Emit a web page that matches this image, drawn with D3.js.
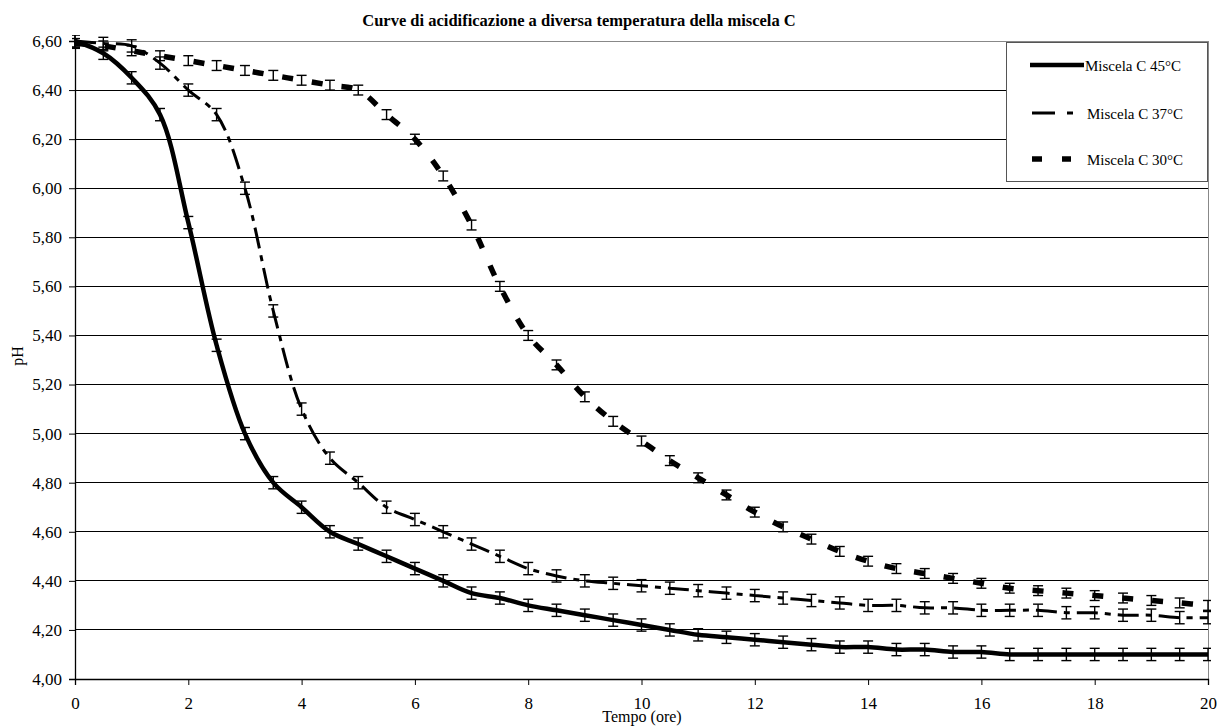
<!DOCTYPE html>
<html><head><meta charset="utf-8">
<script src="https://cdn.jsdelivr.net/npm/d3@7"></script>
<style>
body{margin:0;background:#fff;}
svg text{font-family:"Liberation Serif","Times New Roman",serif !important;fill:#000;}
</style></head>
<body><svg id="chart" width="1218" height="726"></svg>
<script>
const title = "Curve di acidificazione a diversa temperatura della miscela C";
const xLabel = "Tempo (ore)";
const yLabel = "pH";
const hours = [0,0.5,1,1.5,2,2.5,3,3.5,4,4.5,5,5.5,6,6.5,7,7.5,8,8.5,9,9.5,10,10.5,11,11.5,12,12.5,13,13.5,14,14.5,15,15.5,16,16.5,17,17.5,18,18.5,19,19.5,20];
const seriesNames = ["Miscela C 45°C","Miscela C 37°C","Miscela C 30°C"];
const ph45 = [6.60,6.55,6.45,6.30,5.86,5.36,5.00,4.80,4.70,4.60,4.55,4.50,4.45,4.40,4.35,4.33,4.30,4.28,4.26,4.24,4.22,4.20,4.18,4.17,4.16,4.15,4.14,4.13,4.13,4.12,4.12,4.11,4.11,4.10,4.10,4.10,4.10,4.10,4.10,4.10,4.10];
const ph37 = [6.60,6.59,6.58,6.51,6.40,6.30,6.00,5.50,5.10,4.90,4.80,4.70,4.65,4.60,4.55,4.50,4.45,4.42,4.40,4.39,4.38,4.37,4.36,4.35,4.34,4.33,4.32,4.31,4.30,4.30,4.29,4.29,4.28,4.28,4.28,4.27,4.27,4.26,4.26,4.25,4.25];
const ph30 = [6.59,6.58,6.56,6.54,6.52,6.50,6.48,6.46,6.44,6.42,6.40,6.30,6.20,6.05,5.85,5.60,5.40,5.28,5.15,5.05,4.97,4.89,4.82,4.75,4.68,4.62,4.57,4.52,4.48,4.45,4.43,4.41,4.39,4.37,4.36,4.35,4.34,4.33,4.32,4.31,4.30];
const err45 = [0.025,0.025,0.025,0.025,0.025,0.025,0.025,0.025,0.025,0.025,0.025,0.025,0.025,0.025,0.025,0.025,0.025,0.025,0.025,0.025,0.025,0.025,0.025,0.025,0.025,0.025,0.025,0.025,0.025,0.025,0.025,0.025,0.025,0.025,0.025,0.025,0.025,0.025,0.025,0.025,0.025];
const err37 = [0.025,0.025,0.025,0.025,0.025,0.025,0.025,0.025,0.025,0.025,0.025,0.025,0.025,0.025,0.025,0.025,0.025,0.025,0.025,0.025,0.025,0.025,0.025,0.025,0.025,0.025,0.025,0.025,0.025,0.025,0.025,0.025,0.025,0.025,0.025,0.025,0.025,0.025,0.025,0.025,0.025];
const err30 = [0.02,0.02,0.02,0.02,0.02,0.02,0.02,0.02,0.02,0.02,0.02,0.02,0.02,0.02,0.02,0.02,0.02,0.02,0.02,0.02,0.02,0.02,0.02,0.02,0.02,0.02,0.02,0.02,0.02,0.02,0.02,0.02,0.02,0.02,0.02,0.02,0.02,0.02,0.02,0.02,0.02];
const xTicks = [0,2,4,6,8,10,12,14,16,18,20];
const yTicks = [4.00,4.20,4.40,4.60,4.80,5.00,5.20,5.40,5.60,5.80,6.00,6.20,6.40,6.60];

const svg = d3.select("#chart");
const L = 75, R = 1208, T = 41, B = 679;
const x = d3.scaleLinear().domain([0,20]).range([L,R]);
const y = d3.scaleLinear().domain([4.0,6.6]).range([B,T]);
const fmt = v => d3.format(".2f")(v).replace(".", ",");

svg.append("g").selectAll("line").data(yTicks).join("line")
  .attr("x1",L).attr("x2",R).attr("y1",d=>y(d)).attr("y2",d=>y(d))
  .attr("stroke", d => d===6.6 ? "#888" : "#000").attr("stroke-width",1)
  .attr("shape-rendering","crispEdges");
svg.append("line").attr("x1",R).attr("x2",R).attr("y1",T).attr("y2",B)
  .attr("stroke","#888").attr("shape-rendering","crispEdges");

const yAxis = svg.append("g").attr("transform",`translate(${L},0)`)
  .call(d3.axisLeft(y).tickValues(yTicks).tickFormat(fmt).tickSize(6).tickPadding(7));
const xAxis = svg.append("g").attr("transform",`translate(0,${B})`)
  .call(d3.axisBottom(x).tickValues(xTicks).tickFormat(d3.format("d")).tickSize(6).tickPadding(12));
[yAxis,xAxis].forEach(a=>{
  a.attr("font-family",null).attr("font-size",null);
  a.select(".domain").attr("stroke","#000").attr("stroke-width",1.3);
  a.selectAll(".tick line").attr("stroke","#000");
  a.selectAll("text").style("font-family","'Liberation Serif', serif").style("font-size","17px").attr("fill","#000");
});

const series = [
  {name:seriesNames[0], vals:ph45, err:err45, w:4.5, dash:null},
  {name:seriesNames[1], vals:ph37, err:err37, w:3, dash:"21,7,6,7"},
  {name:seriesNames[2], vals:ph30, err:err30, w:5.5, dash:"11,19"}
];

svg.append("defs").append("clipPath").attr("id","clip")
  .append("rect").attr("x",L-3).attr("y",T-6).attr("width",R-L+6).attr("height",B-T+8);

const plot = svg.append("g").attr("clip-path","url(#clip)");
const line = d3.line().x(d=>x(d[0])).y(d=>y(d[1])).curve(d3.curveCatmullRom.alpha(0.5));

series.forEach(s=>{
  const pts = hours.map((h,i)=>[h,s.vals[i],s.err[i]]);
  const eb = plot.append("g").attr("stroke","#000").attr("stroke-width",1.4);
  pts.forEach(p=>{
    const cx = x(p[0]), y1 = y(p[1]+p[2]), y2 = y(p[1]-p[2]);
    eb.append("line").attr("x1",cx).attr("x2",cx).attr("y1",y1).attr("y2",y2);
    eb.append("line").attr("x1",cx-5).attr("x2",cx+5).attr("y1",y1).attr("y2",y1);
    eb.append("line").attr("x1",cx-5).attr("x2",cx+5).attr("y1",y2).attr("y2",y2);
  });
  const path = plot.append("path").datum(pts).attr("d",line)
    .attr("fill","none").attr("stroke","#000").attr("stroke-width",s.w);
  if (s.dash) path.attr("stroke-dasharray",s.dash);
});

svg.append("text").attr("x",579).attr("y",26).attr("text-anchor","middle")
  .style("font-size","16.5px").attr("font-weight","bold").text(title);
svg.append("text").attr("x",642).attr("y",722).attr("text-anchor","middle")
  .style("font-size","16px").text(xLabel);
svg.append("text").attr("transform","translate(23,356) rotate(-90)").attr("text-anchor","middle")
  .style("font-size","16px").text(yLabel);

const lg = svg.append("g");
lg.append("rect").attr("x",1006.5).attr("y",42.5).attr("width",201).attr("height",139)
  .attr("fill","#fff").attr("stroke","#555").attr("stroke-width",1);
const legY = [65,113,159];
const legDash = [null,"23,12,7,100","10,20"];
const legX = [[1030,1084],[1032,1073],[1032,1071]];
series.forEach((s,i)=>{
  const l = lg.append("line").attr("x1",legX[i][0]).attr("x2",legX[i][1])
    .attr("y1",legY[i]).attr("y2",legY[i]).attr("stroke","#000").attr("stroke-width",s.w);
  if (legDash[i]) l.attr("stroke-dasharray",legDash[i]);
  lg.append("text").attr("x",i===0?1085:1087).attr("y",legY[i]+6).style("font-size","15px").text(s.name);
});
</script></body></html>
